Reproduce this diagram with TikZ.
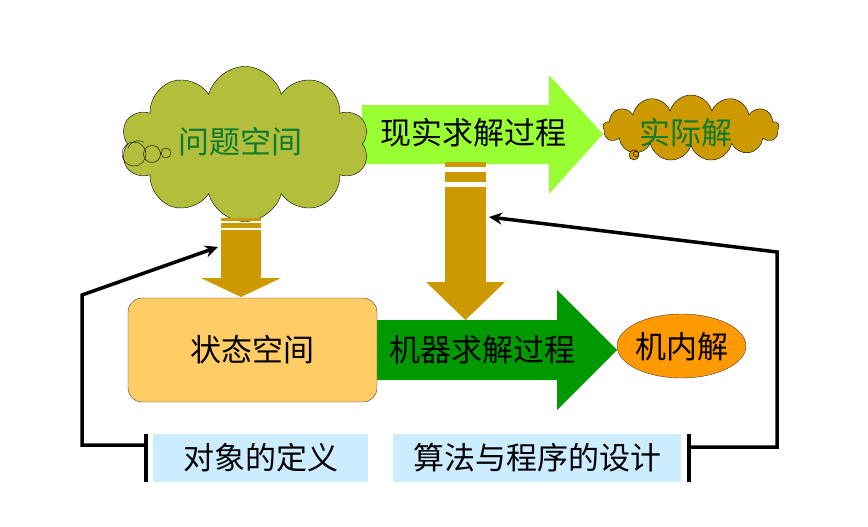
\documentclass[tikz,border=0pt]{standalone}
\usepackage{fontspec}
\setmainfont{Noto Sans CJK SC}
\usetikzlibrary{shapes.symbols,shapes.geometric,arrows.meta}
\definecolor{olivecloud}{HTML}{B3BF3C}
\definecolor{cloudtext}{HTML}{0E7A30}
\definecolor{limearrow}{HTML}{99FF33}
\definecolor{goldc}{HTML}{CC9900}
\definecolor{rectfill}{HTML}{FFCC66}
\definecolor{darkgreen}{HTML}{009900}
\definecolor{orangec}{HTML}{FF9900}
\definecolor{lightblue}{HTML}{CCECFF}
\tikzset{
  lbl/.style={font=\fontsize{31}{34}\selectfont, inner sep=0pt},
  cloudlbl/.style={lbl, text=cloudtext},
  feedback/.style={line width=3.5pt, black},
  fbarrow/.style={feedback, -{Stealth[length=13pt,width=12pt]}},
  bracketline/.style={line width=3.5pt, black},
  labelbox/.style={fill=lightblue, draw=none},
}
\begin{document}
\begin{tikzpicture}[x=1pt,y=-1pt]
\useasboundingbox (0,0) rectangle (868,527);
% lime arrow (real solving process)
\fill[limearrow] (362,105) -- (549,105) -- (549,75) -- (603,134) -- (549,194) -- (549,164) -- (362,164) -- cycle;
% big cloud
\node[cloud, cloud puffs=10, aspect=1.6, draw=black, thin, fill=olivecloud,
      minimum width=248pt, minimum height=155pt, inner sep=0pt] (bigcloud) at (245,144) {};
\draw[thin] (134,154) circle (12) (152,154) circle (8.5) (166,153) circle (5);
\draw[thin] (128,148) arc (200:300:11);
\node[cloudlbl] (problem) at (240,142) {问题空间};
% small cloud
\node[cloud, cloud puffs=13, aspect=2.6, draw=black, thin, fill=goldc,
      minimum width=176pt, minimum height=66pt, inner sep=0pt] (smallcloud) at (691,128) {};
\draw[thin, fill=goldc] (634,155) circle (5);
\draw[thin] (636,154) circle (2.8);
\node[cloudlbl] (realsol) at (686,133) {实际解};
\node[lbl] (realproc) at (473,133) {现实求解过程};
% left down arrow
\fill[goldc] (221,218) rectangle (261,221);
\fill[goldc] (221,223) rectangle (261,228);
\fill[goldc] (221,230) -- (261,230) -- (261,278) -- (281,278) -- (241,297) -- (201,278) -- (221,278) -- cycle;
% middle down arrow
\fill[goldc] (445,162) rectangle (486,167);
\fill[goldc] (445,172) rectangle (486,182);
% green arrow
\fill[darkgreen] (377,320) -- (557,320) -- (557,290) -- (617,350) -- (557,410) -- (557,380) -- (377,380) -- cycle;
\fill[goldc] (445,187) -- (486,187) -- (486,282) -- (505,282) -- (465.5,320) -- (426,282) -- (445,282) -- cycle;
% state space
\node[draw=black!75, fill=rectfill, rounded corners=14pt, minimum width=249pt, minimum height=104pt, inner sep=0pt] (statebox) at (252.5,350) {};
\node[lbl] (state) at (252.5,350) {状态空间};
\node[lbl] (machproc) at (482,350) {机器求解过程};
% machine solution
\node[ellipse, draw=black!75, fill=orangec, minimum width=129pt, minimum height=64pt, inner sep=0pt] (machsol) at (681.5,346) {};
\node[lbl] (machtext) at (681.5,347) {机内解};
% bottom boxes
\node[labelbox, minimum width=215pt, minimum height=48pt, inner sep=0pt] (objbox) at (260.5,458) {};
\node[lbl] (objtext) at (260.5,458) {对象的定义};
\node[labelbox, minimum width=288pt, minimum height=48pt, inner sep=0pt] (algbox) at (537,458) {};
\node[lbl] (algtext) at (537,458) {算法与程序的设计};
% brackets
\coordinate (bl1) at (146,434);
\coordinate (bl2) at (146,482);
\coordinate (blm) at (146,445);
\coordinate (br1) at (689,434);
\coordinate (br2) at (689,482);
\coordinate (brm) at (689,447);
\draw[bracketline] (bl1) -- (bl2);
\draw[bracketline] (br1) -- (br2);
\coordinate (tipl) at (218,247);
\coordinate (tipr) at (489,217);
\coordinate (cl1) at (82,445);
\coordinate (cl2) at (82,295);
\coordinate (cr1) at (777,447);
\coordinate (cr2) at (777,252);
\draw[fbarrow, line join=miter] (blm) -- (cl1) -- (cl2) -- (tipl);
\draw[fbarrow, line join=miter] (brm) -- (cr1) -- (cr2) -- (tipr);
\end{tikzpicture}
\end{document}
